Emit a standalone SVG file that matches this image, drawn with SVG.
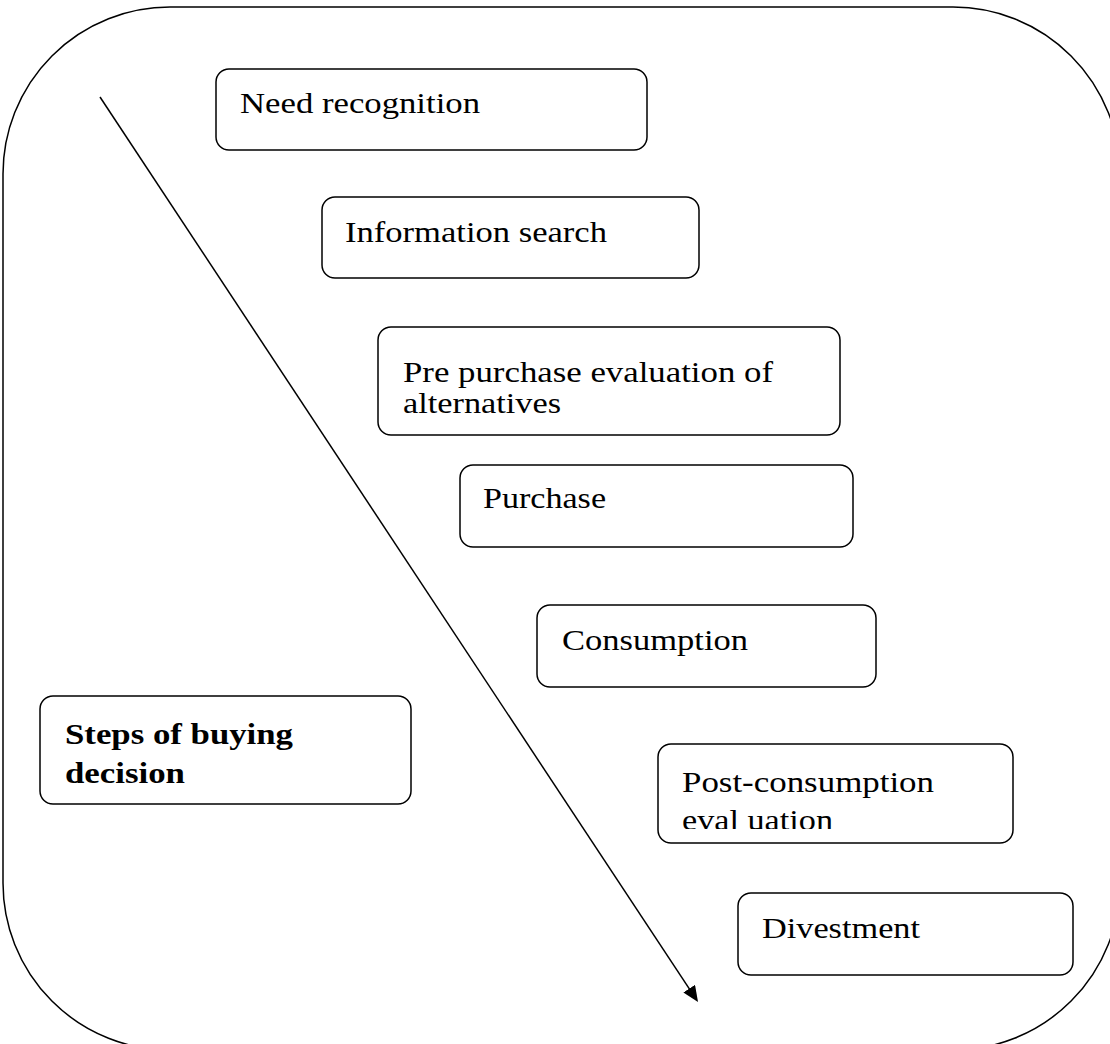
<svg xmlns="http://www.w3.org/2000/svg" width="1110" height="1044" viewBox="0 0 1110 1044">
<style>
.box{fill:#fff;stroke:#000;stroke-width:1.5}
.t{font-family:'Liberation Serif','Times New Roman',Times,serif;font-size:30px;fill:#000}
.b{font-weight:bold}
.edge{stroke:#000;stroke-width:1.5;fill:none}
</style>
<defs>
<marker id="ah" viewBox="0 0 16 14" refX="12" refY="7" markerWidth="16" markerHeight="14" markerUnits="userSpaceOnUse" orient="auto">
<path d="M0,0 L16,7 L0,14 z" fill="#000"/>
</marker>
<clipPath id="pcclip"><rect x="658" y="744" width="355" height="85"/></clipPath>
</defs>
<rect id="frame" x="3" y="7" width="1117" height="1043" rx="167" ry="167" fill="#fff" stroke="#000" stroke-width="1.5"/>
<g id="connectors">
<line class="edge" x1="100" y1="97" x2="695.8" y2="998.7" marker-end="url(#ah)"/>
</g>
<g id="need">
<rect class="box" x="216" y="69" width="431" height="81" rx="13"/>
<text class="t" font-family="Liberation Serif" x="240" y="113" textLength="240" lengthAdjust="spacingAndGlyphs">Need recognition</text>
</g>
<g id="info">
<rect class="box" x="322" y="197" width="377" height="81" rx="13"/>
<text class="t" font-family="Liberation Serif" x="345" y="242" textLength="262" lengthAdjust="spacingAndGlyphs">Information search</text>
</g>
<g id="prepurchase">
<rect class="box" x="378" y="327" width="462" height="108" rx="13"/>
<text class="t" font-family="Liberation Serif" x="403" y="382" textLength="370" lengthAdjust="spacingAndGlyphs">Pre purchase evaluation of</text>
<text class="t" font-family="Liberation Serif" x="403" y="413" textLength="158" lengthAdjust="spacingAndGlyphs">alternatives</text>
</g>
<g id="purchase">
<rect class="box" x="460" y="465" width="393" height="82" rx="13"/>
<text class="t" font-family="Liberation Serif" x="483" y="508" textLength="123" lengthAdjust="spacingAndGlyphs">Purchase</text>
</g>
<g id="consumption">
<rect class="box" x="537" y="605" width="339" height="82" rx="13"/>
<text class="t" font-family="Liberation Serif" x="562" y="650" textLength="186" lengthAdjust="spacingAndGlyphs">Consumption</text>
</g>
<g id="postconsumption">
<rect class="box" x="658" y="744" width="355" height="99" rx="13"/>
<g clip-path="url(#pcclip)">
<text class="t" font-family="Liberation Serif" x="682" y="792" textLength="252" lengthAdjust="spacingAndGlyphs">Post-consumption</text>
<text class="t" font-family="Liberation Serif" x="682" y="830" textLength="151" lengthAdjust="spacingAndGlyphs">eval uation</text>
</g>
</g>
<g id="divestment">
<rect class="box" x="738" y="893" width="335" height="82" rx="13"/>
<text class="t" font-family="Liberation Serif" x="762" y="938" textLength="158" lengthAdjust="spacingAndGlyphs">Divestment</text>
</g>
<g id="steps">
<rect class="box" x="40" y="696" width="371" height="108" rx="13"/>
<text class="t b" font-family="Liberation Serif" x="65" y="744" textLength="228" lengthAdjust="spacingAndGlyphs">Steps of buying</text>
<text class="t b" font-family="Liberation Serif" x="65" y="783" textLength="120" lengthAdjust="spacingAndGlyphs">decision</text>
</g>
</svg>
